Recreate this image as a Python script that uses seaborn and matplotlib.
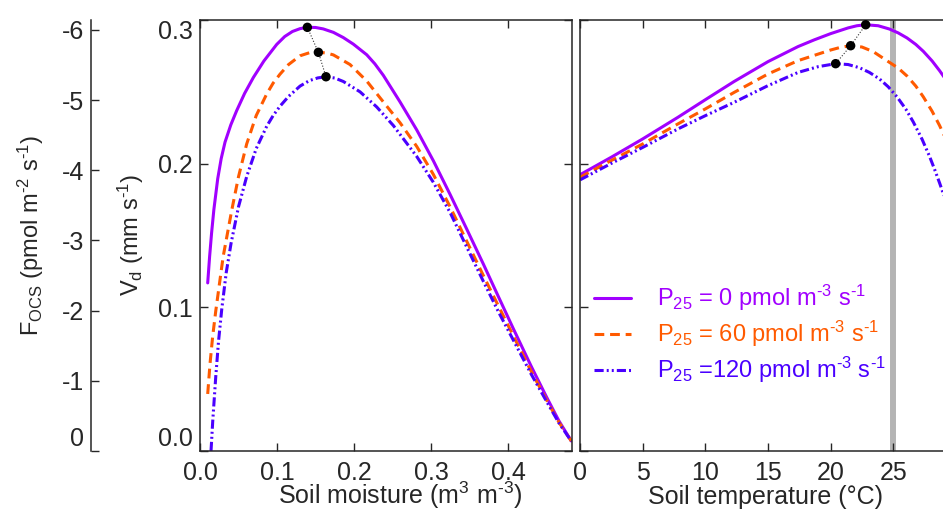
import matplotlib
matplotlib.use('Agg')
import matplotlib.pyplot as plt
import seaborn as sns

# --- soil moisture panel: Vd (mm s-1) vs soil moisture (m3 m-3) ---
sm_p0 = [0.010, 0.0125, 0.015, 0.018, 0.023, 0.0275, 0.0325, 0.040, 0.0476, 0.058,
         0.0693, 0.083, 0.0996, 0.110, 0.120, 0.130, 0.1394, 0.150, 0.160, 0.1732,
         0.186, 0.1991, 0.2165, 0.227, 0.238, 0.2597, 0.2814, 0.303, 0.3247, 0.3463,
         0.368, 0.3874, 0.4065, 0.430, 0.450, 0.466, 0.482]
vd_sm_p0 = [0.117, 0.1355, 0.1515, 0.168, 0.1895, 0.2035, 0.215, 0.227, 0.2369, 0.249,
            0.260, 0.2715, 0.283, 0.2885, 0.292, 0.294, 0.2949, 0.2948, 0.2938, 0.2914,
            0.2878, 0.2832, 0.2758, 0.2695, 0.2615, 0.243, 0.2235, 0.202, 0.1786, 0.1545,
            0.130, 0.1075, 0.0855, 0.059, 0.0375, 0.021, 0.007]

sm_p60 = [0.010, 0.013, 0.0165, 0.0204, 0.030, 0.041, 0.050, 0.0606, 0.073, 0.0866,
          0.095, 0.1039, 0.115, 0.1299, 0.142, 0.1537, 0.1645, 0.1732, 0.1948, 0.2165,
          0.238, 0.2597, 0.2814, 0.303, 0.3247, 0.3463, 0.368, 0.3874, 0.4065, 0.430,
          0.450, 0.466, 0.482]
vd_sm_p60 = [0.0397, 0.0607, 0.080, 0.0972, 0.1351, 0.167, 0.1909, 0.2137, 0.2335, 0.2485,
             0.2561, 0.2623, 0.269, 0.2751, 0.2772, 0.2776, 0.277, 0.2757, 0.269, 0.2575,
             0.243, 0.2285, 0.212, 0.1925, 0.170, 0.146, 0.122, 0.101, 0.0805, 0.0555,
             0.0355, 0.020, 0.007]

sm_p120 = [0.0143, 0.0165, 0.0204, 0.024, 0.0282, 0.034, 0.0403, 0.050, 0.0606, 0.073,
           0.0866, 0.095, 0.1039, 0.115, 0.1299, 0.142, 0.153, 0.1636, 0.175, 0.1861,
           0.2078, 0.2294, 0.2511, 0.2814, 0.303, 0.3247, 0.3463, 0.368, 0.3874, 0.4065,
           0.430, 0.450, 0.466, 0.482]
vd_sm_p120 = [0.0, 0.0205, 0.0513, 0.076, 0.0985, 0.124, 0.1445, 0.170, 0.191, 0.2105,
              0.226, 0.2335, 0.240, 0.2468, 0.254, 0.2578, 0.2597, 0.2605, 0.2596, 0.2572,
              0.250, 0.2395, 0.2265, 0.205, 0.187, 0.166, 0.142, 0.118, 0.097, 0.0775,
              0.0535, 0.0345, 0.0195, 0.007]

# --- soil temperature panel: Vd (mm s-1) vs soil temperature (degC) ---
st_p0 = [0, 2.5, 5, 7.8, 10, 12.3, 15, 17.4, 18.7, 20, 21.4, 22.1, 22.8, 23.8, 24.7,
         25.4, 26.1, 26.8, 27.4, 28.1, 28.7, 29.2]
vd_st_p0 = [0.1923, 0.2045, 0.2172, 0.2322, 0.2445, 0.2572, 0.271, 0.2815, 0.2862, 0.2905,
            0.2945, 0.296, 0.2967, 0.296, 0.2937, 0.291, 0.2875, 0.283, 0.2782, 0.2715,
            0.2647, 0.2585]

st_p60 = [0, 2.5, 5, 7.8, 10, 12.3, 15, 17.4, 20, 20.8, 21.6, 22.5, 23.4, 24.7, 25.4,
          26.1, 26.8, 27.4, 28.1, 28.7, 29.2]
vd_st_p60 = [0.1905, 0.2022, 0.2137, 0.2276, 0.2381, 0.2496, 0.2624, 0.2717, 0.2791, 0.281,
             0.2821, 0.2812, 0.278, 0.2705, 0.2665, 0.261, 0.254, 0.2465, 0.2365, 0.2265,
             0.217]

st_p120 = [0, 2.5, 5, 7.8, 10, 12.3, 15, 17.4, 19.0, 20.4, 21.4, 22.3, 23.1, 23.9, 24.6,
           25.3, 26.0, 26.6, 27.3, 27.9, 28.3, 28.7, 29.2]
vd_st_p120 = [0.1887, 0.2002, 0.2113, 0.2241, 0.2334, 0.2427, 0.2543, 0.2635, 0.2675, 0.2696,
              0.269, 0.2668, 0.2635, 0.259, 0.2535, 0.2465, 0.238, 0.229, 0.217, 0.205,
              0.196, 0.1865, 0.174]

# optimum points (black dots)
opt_sm = [0.1394, 0.1537, 0.1636]
opt_vd_sm = [0.2949, 0.2775, 0.2605]
opt_st = [22.8, 21.6, 20.4]
opt_vd_st = [0.2967, 0.2821, 0.2696]

labels = [r'P$_{25}$ = 0 pmol m$^{\text{-}3}$ s$^{\text{-}1}$',
          r'P$_{25}$ = 60 pmol m$^{\text{-}3}$ s$^{\text{-}1}$',
          r'P$_{25}$ =120 pmol m$^{\text{-}3}$ s$^{\text{-}1}$']
colors = ['#a100ff', '#ff5a00', '#4a00ff']
styles = ['-', (0, (3.2, 1.9)), (0, (3.0, 1.0, 0.65, 1.0, 0.65, 1.0))]

vd_ticks = [0.0, 0.1, 0.2, 0.3]
f_ticks = [0, -1, -2, -3, -4, -5, -6]

sns.set_style('ticks')
plt.rcParams['font.family'] = ['Liberation Sans', 'DejaVu Sans']
plt.rcParams['mathtext.fontset'] = 'custom'
plt.rcParams['mathtext.rm'] = 'Liberation Sans'
plt.rcParams['mathtext.it'] = 'Liberation Sans:italic'
plt.rcParams['mathtext.default'] = 'regular'
plt.rcParams['axes.unicode_minus'] = False
fs = 18

W, H = 943, 512
fig = plt.figure(figsize=(W / 100, H / 100), dpi=100)

def fx(px):
    return px / W

bot, hgt = (H - 451) / H, 431 / H
ax_m = fig.add_axes([fx(200), bot, fx(372), hgt])
ax_t = fig.add_axes([fx(580), bot, fx(35 * 12.53), hgt])
ax_f = fig.add_axes([fx(91.3), bot, fx(10), hgt])

for x, y, c, ls, lab in zip([sm_p0, sm_p60, sm_p120], [vd_sm_p0, vd_sm_p60, vd_sm_p120],
                            colors, styles, labels):
    sns.lineplot(x=x, y=y, ax=ax_m, color=c, lw=2.2, linestyle=ls, sort=False,
                 estimator=None, label=lab, legend=False)
for x, y, c, ls in zip([st_p0, st_p60, st_p120], [vd_st_p0, vd_st_p60, vd_st_p120],
                       colors, styles):
    sns.lineplot(x=x, y=y, ax=ax_t, color=c, lw=2.2, linestyle=ls, sort=False,
                 estimator=None, legend=False)

ax_t.axvline(25, color='#b4b4b4', lw=4.3, zorder=0.5)

for ax, ox, oy in [(ax_m, opt_sm, opt_vd_sm), (ax_t, opt_st, opt_vd_st)]:
    ax.plot(ox, oy, ls=':', color='#333333', lw=0.8, zorder=3)
    sns.scatterplot(x=ox, y=oy, ax=ax, color='black', s=46, edgecolor='none',
                    zorder=4, legend=False)

# axes styling
for ax in (ax_m, ax_t):
    ax.set_ylim(0, 0.3)
    ax.set_xlabel('')
    ax.set_ylabel('')
    ax.tick_params(direction='in', top=True, right=True, length=5.5, width=1,
                   labelsize=fs, pad=7)
    for s in ax.spines.values():
        s.set_linewidth(1.1)
    ax.set_facecolor('none')

ax_m.set_xlim(0, 0.483)
ax_m.set_xticks([0.0, 0.1, 0.2, 0.3, 0.4])
ax_m.set_xticklabels(['0.0', '0.1', '0.2', '0.3', '0.4'])
ax_m.set_yticks(vd_ticks)
ax_m.set_yticklabels(['%.1f' % v for v in vd_ticks])
ax_m.tick_params(axis='y', pad=5)
ylabs = ax_m.get_yticklabels()
ylabs[0].set_va('bottom')
ylabs[-1].set_va('top')

ax_t.set_xlim(0, 35)
ax_t.set_xticks([0, 5, 10, 15, 20, 25])
ax_t.set_yticks(vd_ticks)
ax_t.tick_params(axis='y', labelleft=False)
ax_t.spines['right'].set_visible(False)

ax_f.set_ylim(0, -6.14)
ax_f.set_yticks(f_ticks)
ax_f.set_xticks([])
for s in ['top', 'right', 'bottom']:
    ax_f.spines[s].set_visible(False)
ax_f.spines['left'].set_linewidth(1.1)
ax_f.tick_params(axis='y', direction='in', length=6, width=1, labelsize=fs, pad=5)
ax_f.set_facecolor('none')
ax_f.get_yticklabels()[0].set_va('bottom')

# axis titles
fig.text(fx(31), 1 - 235 / H, r'F$_{OCS}$ (pmol m$^{\text{-}2}$ s$^{\text{-}1}$)', rotation=90,
         ha='center', va='center', fontsize=17)
fig.text(fx(131), 1 - 235 / H, r'V$_{d}$ (mm s$^{\text{-}1}$)', rotation=90,
         ha='center', va='center', fontsize=17)
fig.text(fx(400), 1 - 504 / H, r'Soil moisture (m$^{3}$ m$^{\text{-}3}$)',
         ha='center', va='baseline', fontsize=fs)
fig.text(fx(766), 1 - 504 / H, 'Soil temperature (°C)',
         ha='center', va='baseline', fontsize=fs)

handles = ax_m.get_lines()[:3]
leg = ax_t.legend(handles, labels, loc='upper left',
                  bbox_to_anchor=(fx(594), 1 - 283 / H), bbox_transform=fig.transFigure,
                  frameon=False, fontsize=17, labelcolor='linecolor', handlelength=1.55,
                  handletextpad=1.1, labelspacing=0.25, borderpad=0, borderaxespad=0)

fig.savefig('out.png', dpi=100)
